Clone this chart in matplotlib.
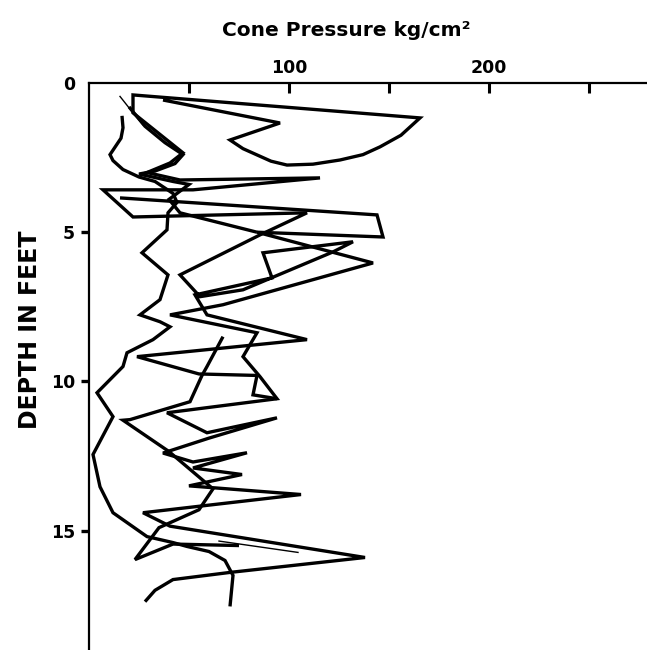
import matplotlib
matplotlib.use("Agg")
import matplotlib.pyplot as plt

# ---- data: cone pressure (kg/cm^2) vs depth (ft) for the traced profiles ----
p1_x = [37, 95.5, 70.5, 77, 84, 91, 99, 112, 125.5, 137, 145.5, 156, 165.5, 22, 22, 47, 40.5, 29, 45.5, 115.5, 52, 7,
        22, 109, 85.5, 45.5, 55.5, 77, 122, 132, 87, 91.5, 53, 59, 109, 24, 55, 84, 82, 94]
p1_d = [0.57, 1.34, 1.91, 2.2, 2.41, 2.62, 2.75, 2.72, 2.58, 2.4, 2.14, 1.75, 1.17, 0.40, 1.0, 2.34, 2.68, 3.0, 3.25, 3.18, 3.58, 3.58,
        4.49, 4.35, 5.09, 6.43, 7.16, 6.93, 5.66, 5.32, 5.69, 6.53, 7.1, 7.77, 8.6, 9.17, 9.75, 9.8, 10.45, 10.58]

p2_x = [20, 28, 38, 47, 43, 33, 25, 42, 50, 40, 45.5, 84]
p2_d = [0.8, 1.45, 2.0, 2.4, 2.7, 2.95, 3.05, 3.3, 3.4, 3.9, 4.35, 5.0]

p3_x = [15.5, 144, 147, 84, 142, 67, 40.5, 84, 77, 85.5, 94, 39, 59, 94, 60, 37, 52, 79, 52, 76.5, 50, 106, 27, 40.5,
        138, 70.5, 42, 33, 28]
p3_d = [3.85, 4.42, 5.16, 5.0, 6.03, 7.43, 7.77, 8.37, 9.17, 9.84, 10.58, 11.05, 11.72, 11.22, 11.9, 12.4, 12.7, 12.39,
        12.9, 13.12, 13.5, 13.79, 14.4, 14.85, 15.9, 16.4, 16.64, 17.0, 17.38]

p4_x = [16.5, 17, 16, 10.5, 12, 17, 25, 33, 42, 44, 39.5, 39, 26.5, 39.5, 35.5, 25.5, 35.5, 40.5, 32, 19, 17, 4, 12, 2,
        5.5, 12, 29, 42, 49, 60, 68, 72, 70.5]
p4_d = [1.1, 1.5, 1.85, 2.4, 2.6, 2.9, 3.15, 3.3, 3.7, 4.0, 4.35, 4.92, 5.69, 6.43, 7.26, 7.77, 8.0, 8.17, 8.6, 9.04, 9.5,
        10.38, 11.18, 12.45, 13.53, 14.4, 15.2, 15.4, 15.53, 15.7, 16.0, 16.5, 17.54]

p5_x = [67, 59, 56.5, 50.5, 20.5, 17, 40, 62, 55, 35, 23, 42, 75]
p5_d = [8.5, 9.5, 9.8, 10.68, 11.28, 11.3, 12.35, 13.6, 14.3, 14.9, 15.97, 15.45, 15.5]

thin1_x = [15.5, 22, 27]
thin1_d = [0.45, 1.0, 1.4]
thin2_x = [65, 104.5]
thin2_d = [15.35, 15.73]

x_ticks = [50, 100, 150, 200, 250]
x_ticklabels = ["", "100", "", "200", ""]
y_ticks = [0, 5, 10, 15]
y_ticklabels = ["0", "5", "10", "15"]

plt.rcParams['font.family'] = ['DejaVu Sans']

fig = plt.figure(figsize=(6.47, 6.50), dpi=100)
ax = fig.add_axes([89 / 647, 0.0, 1 - 89 / 647, 1 - 83 / 650])

lw = 2.4
for xs, ds in [(p1_x, p1_d), (p2_x, p2_d), (p3_x, p3_d), (p4_x, p4_d), (p5_x, p5_d)]:
    ax.plot(xs, ds, color="black", lw=lw, solid_joinstyle="miter", solid_capstyle="butt")
ax.plot(thin1_x, thin1_d, color="black", lw=1.0)
ax.plot(thin2_x, thin2_d, color="black", lw=1.0)

ax.set_xlim(0, 279)
ax.set_ylim(19, 0)

ax.xaxis.tick_top()
ax.set_xticks(x_ticks)
ax.set_xticklabels(x_ticklabels, fontsize=12.5, fontweight="bold")
ax.tick_params(axis="x", direction="in", length=7.5, width=2.2, pad=4)
ax.set_yticks(y_ticks)
ax.set_yticklabels(y_ticklabels, fontsize=12.5, fontweight="bold")
ax.tick_params(axis="y", direction="out", length=6, width=2.4, pad=4)
ax.yaxis.get_major_ticks()[0].tick1line.set_visible(False)

for s in ["bottom", "right"]:
    ax.spines[s].set_visible(False)
for s in ["top", "left"]:
    ax.spines[s].set_linewidth(1.6)

fig.text(346 / 647, 1 - 31 / 650, "Cone Pressure kg/cm²", ha="center", va="center",
         fontsize=14.5, fontweight="bold")
fig.text(30 / 647, 1 - 330 / 650, "DEPTH IN FEET", ha="center", va="center", rotation=90,
         fontsize=17, fontweight="bold")

fig.savefig("out.png", dpi=100)
